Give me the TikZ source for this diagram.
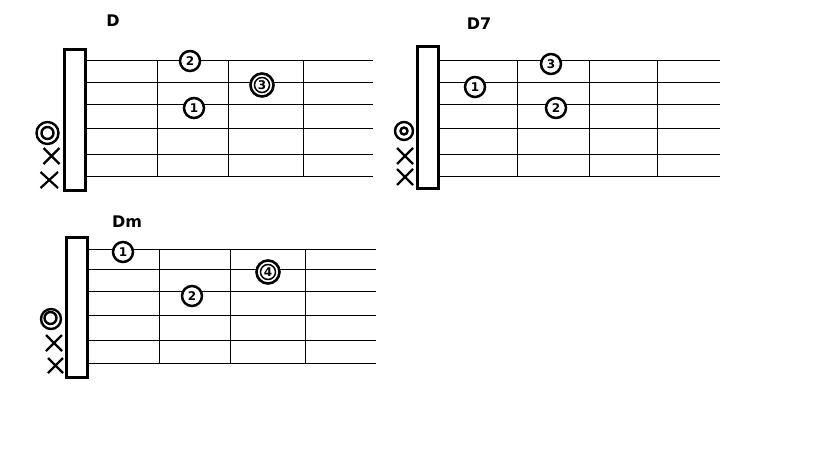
\documentclass[tikz,border=0pt]{standalone}
\usepackage{fontspec}
\setmainfont{DejaVu Sans}
\begin{document}
\begin{tikzpicture}[x=1pt,y=-1pt,
  nutbox/.style={draw=black,line width=3pt,fill=white},
  strline/.style={draw=black,line width=1pt},
  fretline/.style={draw=black,line width=1pt},
  finger/.style={circle,draw=black,line width=2.5pt,fill=white,minimum size=20pt,inner sep=0pt,font=\fontsize{12}{12}\selectfont\bfseries},
  ringout/.style={circle,draw=black,line width=2.6pt,fill=white,minimum size=23pt,inner sep=0pt},
  ringin/.style={circle,draw=black,line width=1.5pt,fill=white,minimum size=15pt,inner sep=0pt,font=\fontsize{12}{12}\selectfont\bfseries},
  chordname/.style={font=\fontsize{16}{16}\selectfont\bfseries},
  openring/.style={circle,draw=black,line width=2.4pt,inner sep=0pt},
  mute/.style={line width=2.2pt}
]
\useasboundingbox (0,0) rectangle (819,460);

% ---------- D ----------
\node[chordname] (nD) at (113,21) {D};
\foreach \y in {61,82,104,128,154,176} \draw[strline] (86,\y) -- (373,\y);
\foreach \x in {157,228,303} \draw[fretline] (\x,61) -- (\x,176);
\draw[nutbox] (64.5,49.5) rectangle (85.5,190);
\node[finger] (d2) at (190,61) {2};
\node[finger] (d1) at (194,108) {1};
\node[ringout] (d3o) at (262,85) {};
\node[ringin] (d3) at (262,85) {3};
\node[openring,minimum size=22pt] (dOo) at (47.5,133) {};
\node[openring,minimum size=12pt] (dOi) at (47.5,133) {};
\draw[mute] (43.5,148) -- (59.5,164) (43.5,164) -- (59.5,148);
\draw[mute] (40.5,172) -- (58,188) (40.5,188) -- (58,172);

% ---------- D7 ----------
\node[chordname] (nD7) at (479,24) {D7};
\foreach \y in {61,82,104,128,154,176} \draw[strline] (439,\y) -- (720,\y);
\foreach \x in {517,589,657} \draw[fretline] (\x,61) -- (\x,176);
\draw[nutbox] (417.5,46.5) rectangle (438.5,188);
\node[finger] (e3) at (551,64) {3};
\node[finger] (e1) at (475,87) {1};
\node[finger] (e2) at (556,108) {2};
\node[openring,minimum size=18pt] (eOo) at (404,131) {};
\node[openring,minimum size=7pt] (eOi) at (404,131) {};
\draw[mute] (397,148) -- (413,164) (397,164) -- (413,148);
\draw[mute] (397,169) -- (413,185) (397,185) -- (413,169);

% ---------- Dm ----------
\node[chordname] (nDm) at (127,222) {Dm};
\foreach \y in {249,269,291,315,340,363} \draw[strline] (88,\y) -- (376,\y);
\foreach \x in {159,230,305} \draw[fretline] (\x,249) -- (\x,363);
\draw[nutbox] (66.5,237) rectangle (87.5,377);
\node[finger] (m1) at (123,252) {1};
\node[finger] (m2) at (192,296) {2};
\node[ringout] (m4o) at (268,272) {};
\node[ringin] (m4) at (268,272) {4};
\node[openring,minimum size=20pt] (mOo) at (51,319) {};
\node[openring,minimum size=12pt] (mOi) at (50.5,318) {};
\draw[mute] (46,335) -- (62,351) (46,351) -- (62,335);
\draw[mute] (48,358) -- (63,373) (48,373) -- (63,358);
\end{tikzpicture}
\end{document}
